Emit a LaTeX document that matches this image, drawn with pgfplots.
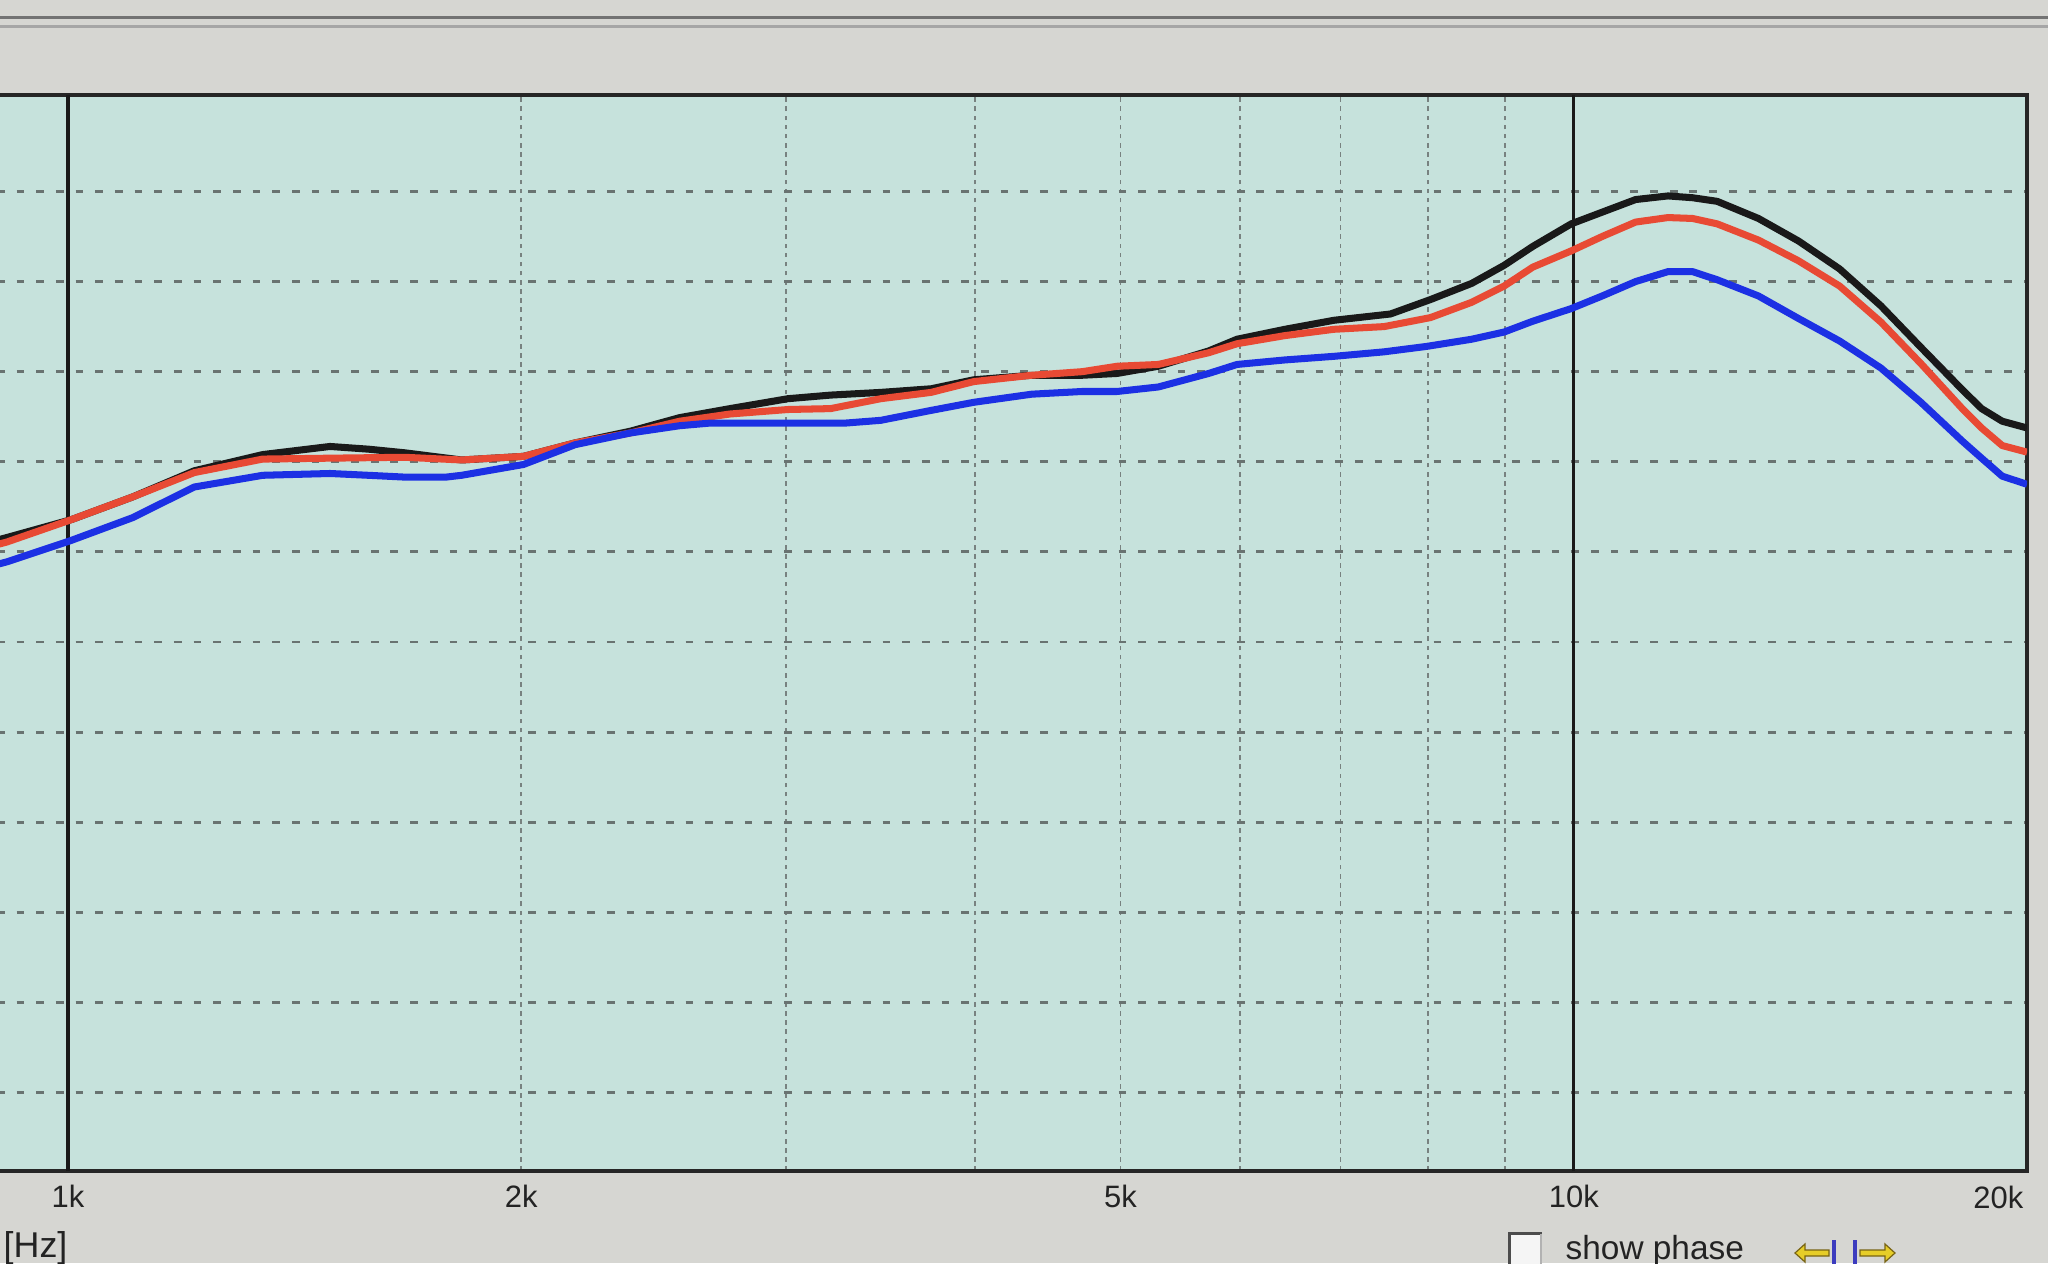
\documentclass[border=0pt]{standalone}
\usepackage{fontspec}
\setmainfont{Liberation Sans}
\usepackage{pgfplots}
\pgfplotsset{compat=1.18}
\definecolor{bggray}{RGB}{214,214,210}
\definecolor{plotbg}{RGB}{198,226,220}
\definecolor{gridc}{RGB}{105,115,113}
\definecolor{vgridc}{RGB}{120,130,128}
\definecolor{cblack}{RGB}{25,25,25}
\definecolor{cred}{RGB}{232,74,52}
\definecolor{cblue}{RGB}{28,48,228}
\definecolor{arrowy}{RGB}{230,205,40}
\definecolor{arrowo}{RGB}{120,100,20}
\definecolor{barblue}{RGB}{60,60,190}
\definecolor{txt}{RGB}{35,35,35}
\begin{document}
\begin{tikzpicture}
\useasboundingbox (0,0) rectangle (20.48,12.63);
\clip (0,0) rectangle (20.48,12.63);
\fill[bggray] (0,0) rectangle (20.48,12.63);
\draw[line width=0.03cm, black!55] (0,12.45) -- (20.48,12.45);
\draw[line width=0.03cm, black!35] (0,12.36) -- (20.48,12.36);
\begin{axis}[
  at={(-0.032cm,0.92cm)}, anchor=south west,
  width=20.302cm, height=10.76cm, scale only axis,
  xmode=log, xmin=897, xmax=20000,
  ymin=-0.87, ymax=11.07,
  axis background/.style={fill=plotbg},
  axis line style={draw=black!85, line width=1pt},
  xtick={1000,2000,5000,10000}, xticklabels={1k,2k,5k,10k},
  minor xtick={900,2000,3000,4000,5000,6000,7000,8000,9000},
  ytick={0,1,...,10}, yticklabels={},
  major tick length=0pt, minor tick length=0pt,
  xmajorgrids=false, xminorgrids=true, ymajorgrids=true,
  major grid style={dash pattern=on 2.2pt off 3.4pt, line width=0.8pt, gridc},
  minor grid style={dash pattern=on 1.3pt off 1.3pt, line width=0.55pt, vgridc},
  extra x ticks={1000,10000}, extra x tick labels={},
  extra x tick style={grid=major, major grid style={solid, black!90, line width=0.9pt}},
  xticklabel style={font=\fontsize{8.8}{10}\selectfont, text=txt, anchor=base, yshift=-10.5pt, inner sep=0pt},
  clip mode=individual,
]
\addplot[cblack, line width=2pt, line join=round] coordinates {
(897,6.13) (911,6.16) (1006,6.36) (1104,6.61) (1213,6.90) (1347,7.08) (1493,7.17) (1583,7.14) (1673,7.10) (1826,7.02) (2007,7.06) (2172,7.21) (2364,7.34) (2548,7.49) (2752,7.59) (3007,7.70) (3210,7.74) (3466,7.77) (3743,7.81) (3996,7.91) (4365,7.96) (4716,7.96) (4974,7.98) (5298,8.06) (5722,8.23) (5976,8.36) (6429,8.47) (6929,8.57) (7556,8.64) (8032,8.80) (8556,8.98) (8990,9.18) (9393,9.39) (9961,9.64) (10444,9.77) (10992,9.91) (11549,9.95) (11991,9.93) (12451,9.89) (13262,9.70) (14100,9.45) (15015,9.14) (15995,8.73) (17003,8.27) (18113,7.80) (18657,7.59) (19256,7.45) (20000,7.375)
};
\addplot[cred, line width=2pt, line join=round] coordinates {
(897,6.08) (911,6.11) (1006,6.36) (1104,6.61) (1213,6.88) (1347,7.03) (1493,7.04) (1673,7.05) (1826,7.02) (2007,7.06) (2172,7.21) (2364,7.32) (2548,7.45) (2752,7.53) (3007,7.58) (3210,7.59) (3466,7.70) (3743,7.77) (3996,7.89) (4365,7.96) (4716,8.00) (4974,8.06) (5298,8.08) (5722,8.21) (5976,8.31) (6429,8.40) (6929,8.47) (7482,8.50) (8032,8.60) (8556,8.77) (8990,8.95) (9393,9.16) (9961,9.34) (10444,9.50) (10992,9.66) (11549,9.71) (11991,9.70) (12451,9.64) (13262,9.46) (14100,9.23) (15015,8.95) (15995,8.55) (17003,8.09) (18113,7.59) (18657,7.375) (19256,7.18) (20000,7.107)
};
\addplot[cblue, line width=2pt, line join=round] coordinates {
(897,5.86) (911,5.89) (1006,6.13) (1104,6.38) (1213,6.72) (1347,6.85) (1493,6.87) (1583,6.85) (1673,6.83) (1783,6.83) (1826,6.85) (2007,6.97) (2172,7.19) (2364,7.32) (2548,7.40) (2672,7.43) (3007,7.43) (3287,7.43) (3466,7.46) (3743,7.57) (3996,7.66) (4365,7.75) (4716,7.78) (4974,7.78) (5298,7.83) (5722,7.98) (5976,8.08) (6429,8.13) (6929,8.17) (7482,8.22) (7984,8.28) (8556,8.36) (8990,8.44) (9393,8.56) (9961,8.70) (10444,8.84) (10992,9.00) (11549,9.11) (11991,9.11) (12451,9.02) (13262,8.84) (14100,8.59) (15015,8.34) (15995,8.04) (17003,7.66) (18113,7.23) (18657,7.04) (19256,6.84) (20000,6.75)
};
\end{axis}
\node[anchor=base east, inner sep=0pt, font=\fontsize{8.8}{10}\selectfont, text=txt] at (20.24,0.55) {20k};
\node[anchor=base west, inner sep=0pt, font=\fontsize{10.2}{12}\selectfont, text=txt] at (0.03,0.06) {[Hz]};
% checkbox
\fill[white!92!gray] (15.08,-0.1) rectangle (15.42,0.31);
\draw[black!70, line width=0.035cm] (15.095,-0.1) -- (15.095,0.295) -- (15.42,0.295);
\draw[black!30, line width=0.02cm] (15.41,0.295) -- (15.41,-0.1);
\node[anchor=base west, inner sep=0pt, font=\fontsize{9.5}{11}\selectfont, text=txt] at (15.65,0.035) {show phase};
% arrows
\filldraw[fill=arrowy, draw=arrowo, line width=0.012cm] (17.95,0.10) -- (18.05,0.19) -- (18.05,0.13) -- (18.29,0.13) -- (18.29,0.07) -- (18.05,0.07) -- (18.05,0.01) -- cycle;
\filldraw[fill=arrowy, draw=arrowo, line width=0.012cm] (18.95,0.10) -- (18.85,0.19) -- (18.85,0.13) -- (18.60,0.13) -- (18.60,0.07) -- (18.85,0.07) -- (18.85,0.01) -- cycle;
\draw[barblue, line width=0.04cm] (18.34,-0.02) -- (18.34,0.23);
\draw[barblue, line width=0.04cm] (18.55,-0.02) -- (18.55,0.23);
\end{tikzpicture}
\end{document}
